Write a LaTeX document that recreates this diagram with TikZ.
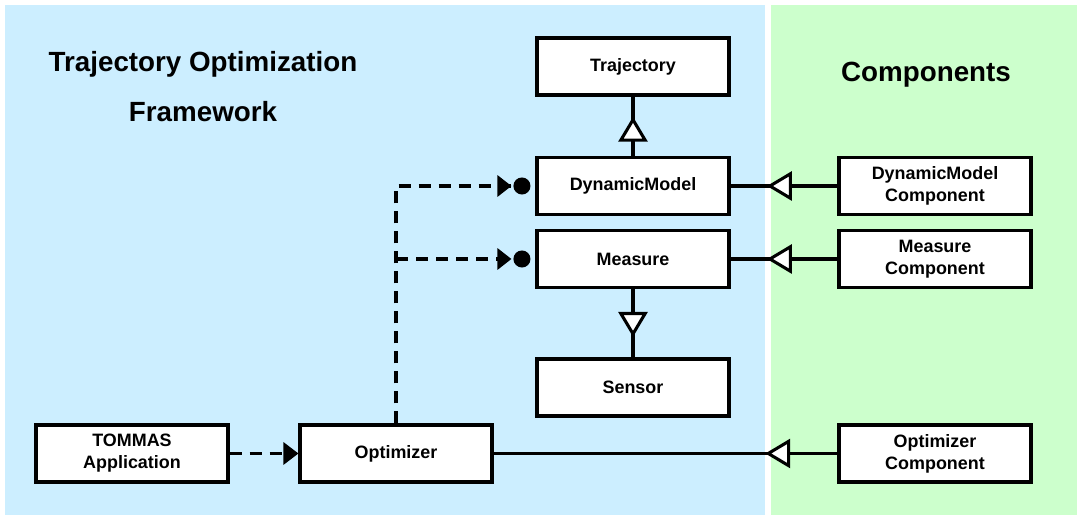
\documentclass[tikz,border=0pt]{standalone}
\usepackage{fontspec}
\setmainfont{Liberation Sans}
\usetikzlibrary{arrows.meta,decorations.markings}

\begin{document}
\begin{tikzpicture}[font=\fontsize{10.2}{12.5}\selectfont\bfseries]
\definecolor{fwblue}{HTML}{CCEEFF}
\definecolor{compgreen}{HTML}{CCFFCC}
\tikzset{
  cls/.style={draw,fill=white,line width=1.75pt,minimum width=3.84cm,minimum height=1.14cm,align=center,inner sep=0pt},
  gen/.style={line width=1.75pt,postaction={decorate},decoration={markings,mark=at position #1 with {\arrow{Triangle[fill=white,length=0.5cm,width=0.58cm]}}}},
  uses/.style={line width=1.75pt,dash pattern=on 0.24cm off 0.16cm,-{Triangle[length=0.28cm,width=0.42cm,sep=0.04cm]Circle[length=0.34cm]},shorten >=0.1cm},
  calls/.style={line width=1.75pt,dash pattern=on 0.24cm off 0.16cm,-{Triangle[length=0.3cm,width=0.44cm]}},
  title/.style={font=\fontsize{15.8}{28.45}\selectfont\bfseries,align=center}
}
\useasboundingbox (0,0) rectangle (21.64,10.4);
\fill[fwblue] (0.1,0.1) rectangle (15.3,10.3);
\fill[compgreen] (15.42,0.1) rectangle (21.54,10.3);
\node[title] (fwtitle) at (4.06,8.66) {Trajectory Optimization\\Framework};
\node[title] (comptitle) at (18.52,8.9) {Components};
\node[cls] (traj) at (12.66,9.07) {Trajectory};
\node[cls] (dm) at (12.66,6.68) {DynamicModel};
\node[cls] (ms) at (12.66,5.22) {Measure};
\node[cls] (sensor) at (12.66,2.65) {Sensor};
\node[cls] (dmc) at (18.7,6.68) {DynamicModel\\Component};
\node[cls] (msc) at (18.7,5.22) {Measure\\Component};
\node[cls] (app) at (2.64,1.33) {TOMMAS\\Application};
\node[cls] (opt) at (7.92,1.33) {Optimizer};
\node[cls] (optc) at (18.7,1.33) {Optimizer\\Component};
\draw[gen=0.66] (dm) -- (traj);
\draw[gen=0.7] (ms) -- (sensor);
\draw[gen=0.66] (dmc) -- (dm);
\draw[gen=0.66] (msc) -- (ms);
\draw[gen=0.21] (optc) -- (opt);
\coordinate (fork) at (opt.north |- ms.west);
\draw[uses] (opt.north) |- (dm.west);
\draw[uses] (fork) -- (ms.west);
\draw[calls] (app) -- (opt);
\end{tikzpicture}
\end{document}
